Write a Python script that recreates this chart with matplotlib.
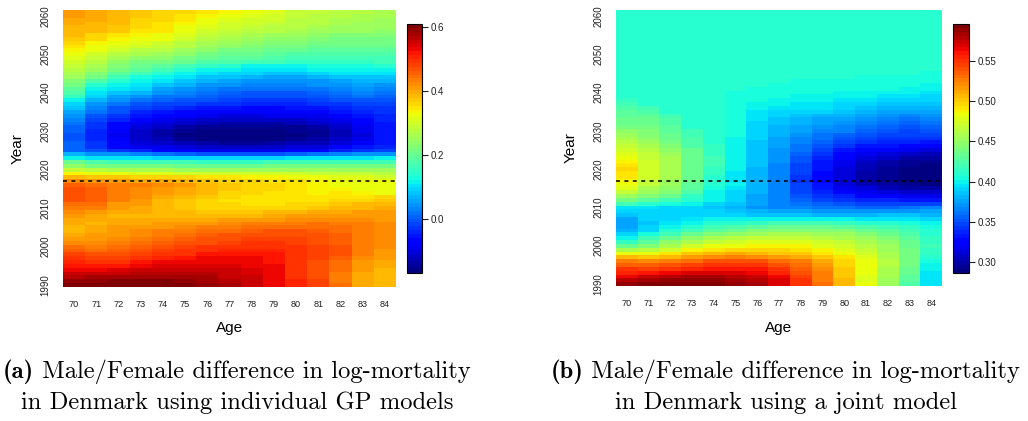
import matplotlib
matplotlib.use("Agg")
import matplotlib.pyplot as plt
import numpy as np

plt.rcParams['font.family'] = ['Liberation Sans', 'DejaVu Sans']

ages = [70, 71, 72, 73, 74, 75, 76, 77, 78, 79, 80, 81, 82, 83, 84]
years = list(range(1990, 2062))
year_ticks = [1990, 2000, 2010, 2020, 2030, 2040, 2050, 2060]
last_observed = 2017

# (a) individual GP models: one row per year (1990 first), ages 70..84
gp_rows = [
    [.61, .61, .61, .61, .60, .60, .59, .58, .56, .53, .51, .48, .44, .40, .39],
    [.59, .59, .60, .60, .60, .59, .58, .57, .55, .53, .51, .48, .43, .40, .39],
    [.57, .58, .58, .585, .585, .58, .575, .56, .55, .53, .50, .47, .43, .40, .38],
    [.55, .56, .56, .565, .57, .57, .565, .555, .545, .53, .50, .47, .43, .40, .385],
    [.53, .53, .54, .55, .555, .555, .555, .55, .54, .53, .50, .47, .44, .405, .39],
    [.52, .515, .52, .53, .54, .545, .545, .54, .535, .525, .50, .475, .445, .41, .395],
    [.51, .50, .50, .515, .525, .53, .535, .535, .53, .52, .50, .475, .45, .41, .40],
    [.50, .48, .485, .50, .505, .515, .525, .525, .525, .52, .50, .48, .46, .42, .405],
    [.48, .47, .475, .48, .49, .50, .515, .52, .52, .515, .50, .48, .465, .43, .41],
    [.46, .45, .46, .47, .48, .49, .50, .505, .505, .505, .495, .48, .465, .435, .415],
    [.44, .435, .445, .455, .465, .48, .49, .495, .50, .50, .495, .48, .465, .435, .42],
    [.425, .425, .435, .445, .455, .465, .475, .485, .49, .49, .485, .475, .46, .435, .42],
    [.41, .41, .425, .435, .445, .455, .465, .475, .48, .48, .48, .475, .46, .435, .42],
    [.40, .405, .415, .425, .435, .445, .455, .465, .47, .47, .475, .47, .455, .435, .42],
    [.39, .40, .41, .42, .43, .435, .445, .45, .46, .465, .465, .46, .45, .435, .42],
    [.39, .395, .405, .41, .415, .42, .43, .435, .445, .45, .45, .45, .445, .43, .42],
    [.395, .39, .40, .40, .405, .41, .415, .425, .43, .43, .435, .44, .435, .43, .42],
    [.40, .395, .395, .395, .395, .395, .40, .405, .41, .415, .42, .425, .425, .42, .415],
    [.41, .40, .39, .39, .385, .38, .385, .39, .39, .40, .405, .41, .41, .41, .41],
    [.42, .41, .40, .395, .385, .38, .375, .375, .375, .38, .385, .395, .40, .405, .405],
    [.435, .43, .405, .40, .38, .375, .365, .36, .355, .355, .36, .375, .38, .39, .40],
    [.45, .445, .415, .405, .385, .375, .365, .355, .35, .35, .355, .365, .37, .38, .385],
    [.465, .46, .43, .415, .39, .375, .365, .35, .345, .345, .345, .35, .36, .365, .375],
    [.47, .46, .435, .42, .40, .385, .37, .36, .35, .345, .345, .345, .35, .35, .355],
    [.475, .46, .435, .42, .405, .40, .38, .365, .36, .35, .345, .34, .345, .335, .33],
    [.47, .455, .435, .425, .41, .40, .385, .37, .365, .355, .35, .34, .335, .33, .325],
    [.46, .45, .435, .43, .42, .405, .39, .375, .365, .36, .35, .335, .33, .32, .32],
    [.42, .415, .41, .40, .395, .385, .375, .365, .36, .35, .345, .335, .33, .325, .32],
    [.38, .375, .37, .365, .36, .355, .35, .345, .34, .335, .33, .32, .315, .31, .305],
    [.34, .33, .32, .31, .31, .305, .30, .30, .30, .295, .295, .29, .29, .285, .28],
    [.29, .27, .26, .26, .26, .255, .255, .255, .255, .255, .255, .255, .255, .25, .245],
    [.24, .22, .21, .21, .21, .205, .205, .205, .205, .21, .21, .215, .215, .215, .215],
    [.20, .18, .17, .16, .16, .16, .155, .155, .155, .16, .16, .165, .17, .17, .17],
    [.12, .11, .10, .10, .09, .09, .09, .09, .09, .09, .10, .10, .11, .11, .12],
    [.07, .05, .04, .03, .02, .01, .00, .00, .00, .00, .01, .02, .03, .04, .05],
    [.01, -.01, -.03, -.04, -.07, -.08, -.085, -.09, -.09, -.085, -.075, -.06, -.045, -.03, -.02],
    [.01, -.03, -.06, -.085, -.09, -.105, -.115, -.12, -.12, -.115, -.105, -.10, -.08, -.05, -.04],
    [.005, -.035, -.07, -.10, -.115, -.13, -.14, -.145, -.145, -.14, -.13, -.125, -.105, -.075, -.05],
    [0, -.04, -.08, -.11, -.13, -.15, -.16, -.165, -.165, -.16, -.15, -.14, -.12, -.09, -.055],
    [0, -.04, -.085, -.12, -.14, -.16, -.165, -.17, -.17, -.165, -.16, -.15, -.13, -.10, -.055],
    [.005, -.04, -.08, -.115, -.135, -.155, -.16, -.165, -.165, -.16, -.155, -.145, -.125, -.095, -.055],
    [.01, -.035, -.07, -.10, -.12, -.14, -.15, -.155, -.155, -.15, -.145, -.135, -.115, -.085, -.05],
    [.02, -.03, -.06, -.085, -.105, -.12, -.13, -.14, -.14, -.135, -.13, -.12, -.105, -.08, -.05],
    [.03, -.015, -.045, -.07, -.085, -.10, -.11, -.12, -.12, -.115, -.11, -.10, -.09, -.065, -.045],
    [.04, 0, -.03, -.055, -.07, -.08, -.09, -.10, -.10, -.095, -.09, -.085, -.075, -.05, -.04],
    [.055, .015, -.01, -.04, -.05, -.06, -.07, -.075, -.08, -.08, -.075, -.065, -.055, -.04, -.035],
    [.075, .03, 0, -.02, -.035, -.04, -.05, -.055, -.065, -.065, -.055, -.05, -.04, -.03, -.03],
    [.095, .05, .02, 0, -.015, -.02, -.03, -.035, -.045, -.045, -.04, -.035, -.025, -.015, -.015],
    [.12, .07, .04, .02, .005, 0, -.01, -.015, -.025, -.025, -.025, -.02, -.01, 0, 0],
    [.15, .09, .06, .045, .025, .02, .005, -.005, -.01, -.01, -.01, -.005, .005, .015, .01],
    [.18, .10, .08, .065, .04, .035, .02, .01, 0, 0, 0, .01, .02, .03, .02],
    [.195, .12, .10, .09, .06, .05, .035, .025, .015, .015, .015, .025, .035, .045, .035],
    [.21, .145, .12, .11, .08, .065, .05, .04, .03, .03, .03, .04, .05, .06, .05],
    [.23, .175, .145, .12, .10, .08, .065, .055, .045, .045, .045, .05, .06, .07, .07],
    [.245, .21, .17, .135, .12, .10, .08, .075, .065, .06, .06, .065, .075, .08, .085],
    [.26, .23, .19, .16, .14, .12, .10, .095, .09, .085, .085, .09, .10, .10, .105],
    [.275, .25, .21, .185, .16, .14, .12, .12, .11, .105, .105, .12, .12, .12, .12],
    [.285, .265, .225, .20, .19, .17, .15, .145, .12, .12, .12, .135, .135, .135, .14],
    [.30, .275, .24, .22, .215, .20, .18, .175, .17, .16, .15, .15, .15, .15, .16],
    [.31, .29, .26, .24, .235, .215, .20, .19, .185, .175, .165, .165, .165, .165, .17],
    [.32, .305, .28, .26, .255, .235, .22, .205, .20, .19, .18, .18, .175, .175, .18],
    [.335, .32, .30, .28, .27, .25, .235, .22, .215, .205, .20, .19, .19, .19, .19],
    [.345, .33, .315, .30, .29, .27, .255, .235, .23, .22, .215, .205, .205, .205, .205],
    [.355, .34, .325, .31, .30, .28, .265, .245, .24, .23, .225, .215, .21, .21, .21],
    [.37, .355, .34, .32, .32, .295, .275, .26, .25, .24, .235, .225, .22, .22, .22],
    [.38, .365, .35, .335, .33, .31, .29, .27, .26, .255, .245, .24, .23, .23, .23],
    [.385, .38, .37, .35, .345, .32, .30, .285, .275, .27, .26, .255, .245, .245, .24],
    [.39, .385, .375, .355, .35, .33, .31, .295, .285, .28, .27, .26, .255, .25, .245],
    [.40, .39, .38, .36, .35, .34, .32, .305, .295, .29, .275, .27, .26, .255, .25],
    [.40, .395, .385, .365, .355, .345, .33, .31, .305, .295, .28, .275, .265, .26, .255],
    [.41, .40, .39, .37, .36, .35, .34, .32, .315, .30, .285, .28, .27, .265, .26],
    [.41, .40, .39, .37, .36, .355, .35, .335, .32, .31, .29, .285, .275, .27, .26],
]

# (b) joint model: one column per age, 1990 first
joint_70 = [.589, .578, .565, .557, .548, .537, .524, .505, .484, .460, .433, .415, .398, .388, .380, .376, .377, .378,
            .386, .390, .395, .418, .440, .455, .466, .476, .484, .487, .490, .494, .495, .490, .485, .482, .477, .472,
            .466, .462, .457, .452, .446, .440, .436, .433, .430, .427, .424, .420, .416,
            .412, .412, .412, .412, .412, .412, .412, .412, .412, .412, .412, .412, .412, .412, .412, .412, .412, .412,
            .412, .412, .412, .412, .412]
joint_71 = [.592, .584, .574, .560, .545, .535, .521, .503, .484, .465, .445, .430, .418, .403, .390, .388, .386, .388,
            .389, .392, .395, .410, .430, .443, .454, .460, .466, .469, .472, .474, .475, .474, .472, .469, .466, .462,
            .456, .451, .447, .445, .442, .440, .436, .433, .430, .426, .421,
            .412, .412, .412, .412, .412, .412, .412, .412, .412, .412, .412, .412, .412, .412, .412, .412, .412, .412,
            .412, .412, .412, .412, .412, .412, .412]
joint_72 = [.594, .588, .580, .565, .548, .538, .527, .508, .490, .474, .460, .447, .433, .420, .408, .400, .395, .392,
            .389, .390, .392, .405, .420, .432, .442, .447, .451, .455, .457, .459, .460, .459, .457, .456, .454, .450,
            .443, .438, .436, .433, .431, .428, .426, .423, .418,
            .412, .412, .412, .412, .412, .412, .412, .412, .412, .412, .412, .412, .412, .412, .412, .412, .412, .412,
            .412, .412, .412, .412, .412, .412, .412, .412, .412]
joint_73 = [.595, .590, .583, .568, .554, .545, .533, .516, .500, .486, .472, .460, .448, .434, .420, .410, .402, .396,
            .390, .389, .389, .398, .408, .416, .423, .427, .430, .432, .433, .435, .436, .436, .436, .435, .434, .432,
            .425, .423, .422, .420, .417,
            .412, .412, .412, .412, .412, .412, .412, .412, .412, .412, .412, .412, .412, .412, .412, .412, .412, .412,
            .412, .412, .412, .412, .412, .412, .412, .412, .412, .412, .412, .412, .412]
joint_74 = [.595, .590, .584, .570, .558, .550, .539, .522, .506, .494, .481, .470, .457, .444, .430, .418, .408, .400,
            .390, .388, .386, .392, .398, .400, .402, .405, .408, .410, .411, .413, .415, .417, .418, .417, .416, .416,
            .413, .411, .410, .410, .410, .410, .410, .410, .410, .410, .410, .410, .410,
            .412, .412, .412, .412, .412, .412, .412, .412, .412, .412, .412, .412, .412, .412, .412, .412, .412, .412,
            .412, .412, .412, .412, .412]
joint_75 = [.591, .586, .580, .570, .560, .552, .542, .525, .509, .497, .484, .474, .463, .450, .436, .422, .410, .400,
            .390, .385, .380, .385, .389, .390, .390, .394, .398, .396, .395, .397, .398, .399, .400, .400, .401, .402,
            .402, .402, .402, .403, .404, .405, .406, .406, .406, .406, .407, .407, .407, .407, .407, .409,
            .412, .412, .412, .412, .412, .412, .412, .412, .412, .412, .412, .412, .412, .412, .412, .412, .412, .412,
            .412, .412]
joint_76 = [.583, .579, .574, .566, .558, .549, .539, .523, .507, .497, .486, .477, .466, .455, .442, .428, .414, .400,
            .386, .380, .373, .375, .377, .378, .380, .381, .383, .381, .380, .381, .383, .385, .386, .386, .386, .386,
            .386, .387, .388, .389, .390, .390, .392, .393, .395, .397, .400, .402, .404, .407, .407, .407, .409,
            .412, .412, .412, .412, .412, .412, .412, .412, .412, .412, .412, .412, .412, .412, .412, .412, .412, .412,
            .412]
joint_77 = [.571, .568, .565, .557, .548, .541, .533, .518, .503, .495, .487, .477, .466, .456, .445, .432, .418, .402,
            .386, .376, .367, .366, .364, .364, .364, .364, .364, .364, .364, .365, .367, .368, .370, .371, .372, .373,
            .374, .375, .377, .379, .381, .383, .385, .387, .390, .392, .395, .398, .401, .404, .407, .407, .407, .409,
            .412, .412, .412, .412, .412, .412, .412, .412, .412, .412, .412, .412, .412, .412, .412, .412, .412, .412]
joint_78 = [.551, .548, .545, .540, .536, .530, .524, .512, .500, .493, .486, .476, .466, .456, .445, .432, .418, .402,
            .386, .375, .364, .360, .355, .352, .349, .347, .346, .344, .343, .345, .346, .349, .352, .354, .357, .360,
            .362, .365, .368, .371, .374, .377, .380, .383, .386, .390, .393, .396, .399, .402, .404, .407, .407, .407,
            .409, .412, .412, .412, .412, .412, .412, .412, .412, .412, .412, .412, .412, .412, .412, .412, .412, .412]
joint_79 = [.530, .528, .527, .524, .521, .516, .512, .503, .494, .486, .478, .471, .463, .455, .445, .432, .418, .400,
            .383, .372, .361, .356, .349, .343, .337, .333, .330, .329, .328, .329, .330, .332, .334, .337, .341, .346,
            .352, .356, .360, .362, .366, .370, .374, .378, .383, .388, .393, .397, .399, .402, .404, .407, .407, .407,
            .409, .412, .412, .412, .412, .412, .412, .412, .412, .412, .412, .412, .412, .412, .412, .412, .412, .412]
joint_80 = [.506, .505, .503, .502, .500, .499, .497, .490, .484, .478, .472, .466, .460, .452, .442, .430, .414, .400,
            .383, .372, .361, .352, .343, .336, .328, .320, .314, .312, .311, .312, .314, .317, .320, .323, .328, .334,
            .341, .347, .353, .358, .364, .368, .372, .376, .380, .385, .389, .392, .396, .399, .402, .407, .407, .407,
            .409, .412, .412, .412, .412, .412, .412, .412, .412, .412, .412, .412, .412, .412, .412, .412, .412, .412]
joint_81 = [.480, .479, .478, .480, .481, .481, .481, .477, .472, .467, .463, .457, .451, .444, .436, .424, .410, .397,
            .383, .370, .358, .348, .337, .327, .317, .311, .305, .300, .299, .300, .302, .305, .308, .312, .318, .326,
            .334, .341, .347, .351, .355, .360, .366, .372, .377, .381, .386, .390, .395, .399, .402, .404, .407, .407,
            .407, .409, .412, .412, .412, .412, .412, .412, .412, .412, .412, .412, .412, .412, .412, .412, .412, .412]
joint_82 = [.454, .455, .457, .458, .460, .462, .463, .460, .457, .454, .451, .447, .442, .436, .430, .420, .408, .397,
            .386, .372, .358, .348, .337, .324, .311, .303, .296, .294, .293, .293, .293, .296, .300, .306, .313, .322,
            .330, .337, .342, .346, .350, .355, .360, .365, .370, .375, .380, .386, .392, .397, .400, .403, .407, .407,
            .407, .409, .412, .412, .412, .412, .412, .412, .412, .412, .412, .412, .412, .412, .412, .412, .412, .412]
joint_83 = [.426, .428, .430, .432, .433, .437, .440, .440, .440, .438, .436, .433, .430, .425, .420, .413, .405, .396,
            .386, .373, .361, .348, .334, .320, .308, .300, .293, .290, .290, .290, .290, .292, .295, .300, .308, .318,
            .328, .335, .340, .345, .349, .354, .358, .362, .368, .374, .380, .386, .390, .395, .398, .402, .407, .407,
            .407, .409, .412, .412, .412, .412, .412, .412, .412, .412, .412, .412, .412, .412, .412, .412, .412, .412]
joint_84 = [.395, .395, .395, .396, .398, .400, .405, .410, .414, .416, .418, .416, .414, .412, .411, .406, .400, .392,
            .383, .375, .364, .349, .334, .320, .308, .298, .290, .288, .287, .287, .287, .289, .292, .297, .305, .315,
            .326, .334, .340, .345, .350, .355, .360, .365, .370, .374, .380, .385, .388, .392, .396, .399, .402, .405,
            .407, .407, .409, .412, .412, .412, .412, .412, .412, .412, .412, .412, .412, .412, .412, .412, .412, .412]

joint_cols = [joint_70, joint_71, joint_72, joint_73, joint_74, joint_75, joint_76, joint_77,
              joint_78, joint_79, joint_80, joint_81, joint_82, joint_83, joint_84]

captions = [
    ("(a)", " Male/Female difference in log-mortality", "in Denmark using individual GP models"),
    ("(b)", " Male/Female difference in log-mortality", "in Denmark using a joint model"),
]

W, H = 1028, 421
fig = plt.figure(figsize=(W / 100, H / 100), dpi=100)
cmap = plt.get_cmap('jet', 64)


def px(x0, y0, x1, y1):
    """pixel box (top-left origin) -> figure rect"""
    return [x0 / W, 1 - y1 / H, (x1 - x0) / W, (y1 - y0) / H]


def panel(z, box, cbox, vmin, vmax, cticks, cfmt):
    ax = fig.add_axes(px(*box))
    mesh = ax.pcolormesh(ages, years, z, cmap=cmap, vmin=vmin, vmax=vmax,
                         shading='nearest', rasterized=True)
    ax.axhline(last_observed, color='black', lw=1.1, ls=(0, (2.6, 2.9)))
    ax.set_xticks(ages)
    ax.set_xticklabels([str(a) for a in ages], fontsize=6.6)
    ax.set_yticks(year_ticks)
    ax.set_yticklabels([str(y) for y in year_ticks], fontsize=7,
                       rotation=90, va='center')
    ax.tick_params(axis='x', length=0, pad=9.5, colors='#222222')
    ax.tick_params(axis='y', length=0, pad=9.2, colors='#222222')
    for s in ax.spines.values():
        s.set_visible(False)

    cax = fig.add_axes(px(*cbox))
    cb = fig.colorbar(mesh, cax=cax, ticks=cticks)
    cb.ax.set_yticklabels([cfmt % t for t in cticks])
    cb.ax.tick_params(labelsize=7, length=4, width=0.8, pad=2.5, colors='#222222')
    cb.outline.set_linewidth(0.8)

    # axis titles
    fig.text((box[0] + box[2]) / 2 / W, 1 - 328 / H, "Age", fontsize=11,
             ha='center', va='center')
    fig.text((box[0] - 45) / W, 1 - (box[1] + box[3]) / 2 / H, "Year",
             fontsize=11, rotation=90, ha='center', va='center')
    return ax


gp = np.array(gp_rows)
joint = np.array(joint_cols).T

panel(gp, (63, 10, 396, 287), (407, 24, 422, 273), -0.169, 0.61,
      [0.0, 0.2, 0.4, 0.6], "%.1f")
panel(joint, (616, 10, 942, 286), (953, 24, 969, 273), 0.2863, 0.596,
      [0.30, 0.35, 0.40, 0.45, 0.50, 0.55], "%.2f")

# sub-figure captions: bold label + roman text, scaled to their width on the page
cap_x = [237, 786]
cap_w = [469, 471]
fig.canvas.draw()
r = fig.canvas.get_renderer()
for (lab, l1, l2), cx, cw in zip(captions, cap_x, cap_w):
    tl = fig.text(0, 1 - 372 / H, lab, fontsize=16, family='cmb10',
                  ha='left', va='center')
    t1 = fig.text(0, 1 - 372 / H, l1, fontsize=16, family='cmr10',
                  ha='left', va='center')
    t2 = fig.text(cx / W, 1 - 403 / H, l2, fontsize=16, family='cmr10',
                  ha='center', va='center')
    total = tl.get_window_extent(r).width + t1.get_window_extent(r).width
    fs = 16 * cw / total
    for t in (tl, t1, t2):
        t.set_fontsize(fs)
    wl = tl.get_window_extent(r).width
    left = cx - cw / 2
    tl.set_x(left / W)
    t1.set_x((left + wl) / W)

fig.savefig("out.png", dpi=100)
